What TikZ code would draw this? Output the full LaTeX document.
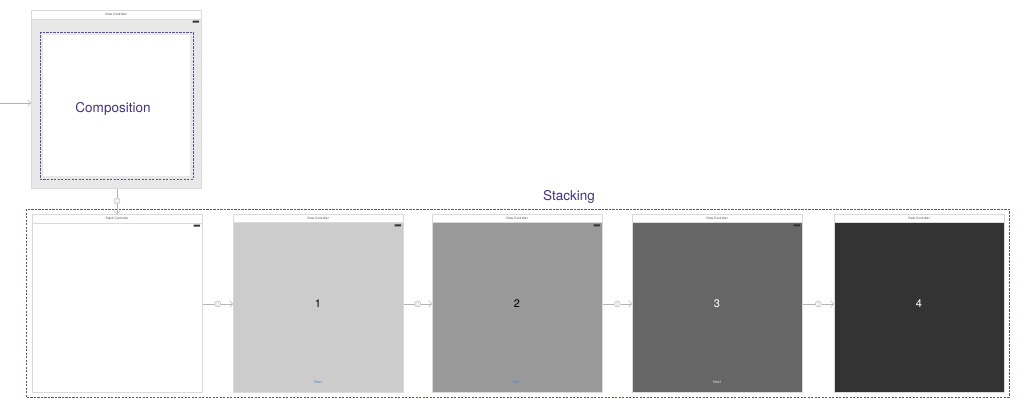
\documentclass[tikz,border=0pt]{standalone}
\usepackage{fontspec}
\setmainfont{TeX Gyre Heros}
\usetikzlibrary{arrows.meta,calc}
\definecolor{purp}{HTML}{3E3388}
\definecolor{dashpurp}{HTML}{5A5296}
\definecolor{edgegray}{HTML}{DADADA}
\definecolor{conngray}{HTML}{B4B4B4}
\definecolor{nextblue}{HTML}{4A86D8}
\tikzset{
  ctrl/.style={draw=edgegray, line width=0.5pt, anchor=north west, inner sep=0pt,
    minimum width=170pt, minimum height=178pt},
  titlebar/.style={fill=white, draw=edgegray, line width=0.4pt},
  titletext/.style={font=\fontsize{3.2}{4}\selectfont, text=black!70},
  battery/.style={fill=black!80, rounded corners=0.4pt},
  grouplabel/.style={font=\fontsize{13.5}{16}\selectfont, text=purp},
  groupbox/.style={draw=dashpurp, line width=0.6pt, dash pattern=on 2.2pt off 1.3pt},
  conn/.style={draw=conngray, line width=0.5pt},
  connarrow/.style={conn, -{Straight Barb[length=3pt,width=7pt]}},
  seguec/.style={circle, draw=conngray, line width=0.5pt, fill=white, minimum size=6pt, inner sep=0pt},
  numtext/.style={font=\fontsize{11}{13}\selectfont},
  nexttext/.style={font=\fontsize{3.8}{4.5}\selectfont},
}
\begin{document}
\begin{tikzpicture}[x=1pt,y=-1pt]
\useasboundingbox (0,0) rectangle (1024,414);

% ---------- top view controller ----------
\fill[fill=gray!18] (31,19) rectangle (201,188);
\fill[white] (43,35) rectangle (190,176);
\node[ctrl] (top) at (31,10) {};
\draw[titlebar] (31,10) rectangle (201,19);
\node[titletext] (toptitle) at (116,14.5) {View Controller};
\fill[battery] (192.5,20.6) rectangle (199,22.6);
\draw[groupbox] (40,32) rectangle (193,179);
\node[grouplabel] (comp) at (113,109) {Composition};

\coordinate (start) at (0,103);
\draw[connarrow] (start) -- (top.west |- start);

% ---------- stacking group ----------
\draw[groupbox] (26,209) rectangle (1009,397);
\node[grouplabel] (stacklabel) at (569,197) {Stacking};

% stack controller
\node[ctrl, fill=white] (s0) at (32,214) {};
\draw[titlebar] (32,214) rectangle (202,223);
\node[titletext] (s0t) at (117,218.5) {Stack Controller};
\fill[battery] (193.5,224.6) rectangle (200,226.6);

% view controllers 1..4
\foreach \i/\x/\c/\tc in {1/233/CCCCCC/black, 2/432/999999/black, 3/632/666666/white, 4/834/333333/white}{
  \definecolor{bodyc}{HTML}{\c}
  \node[ctrl, fill=bodyc] (s\i) at (\x,214) {};
  \draw[titlebar] (\x,214) rectangle ({\x+170},222.5);
  \node[titletext] (s\i t) at ({\x+85},218.2) {View Controller};
  \fill[battery] ({\x+161.5},224.3) rectangle ({\x+168},226.3);
  \node[numtext, text=\tc] (s\i n) at ({\x+85},304) {\i};
}
\node[nexttext, text=nextblue] (next1) at (318,382) {Next};
\node[nexttext, text=nextblue] (next2) at (517,382) {Next};
\node[nexttext, text=white!90!black] (next3) at (717,382) {Next};

% vertical segue
\node[seguec] (cv) at (117,201) {};
\draw[conn] (top.south -| cv) -- (cv);
\draw[connarrow] (cv) -- (s0.north -| cv);
\draw[conn, line width=0.35pt, rounded corners=0.5pt] ($(cv)+(-1,-1.3)$) rectangle ($(cv)+(1,1.3)$);

% horizontal segues
\foreach \a/\b in {s0/s1, s1/s2, s2/s3, s3/s4}{
  \coordinate (\a y) at (0,304);
  \node[seguec] (\a c) at ($(\a.east |- \a y)!0.5!(\b.west |- \a y)$) {};
  \draw[conn] (\a.east |- \a c) -- (\a c);
  \draw[connarrow] (\a c) -- (\b.west |- \a c);
  \draw[conn, line width=0.35pt, rounded corners=0.5pt] ($(\a c)+(-1,-1.3)$) rectangle ($(\a c)+(1,1.3)$);
}
\end{tikzpicture}
\end{document}
